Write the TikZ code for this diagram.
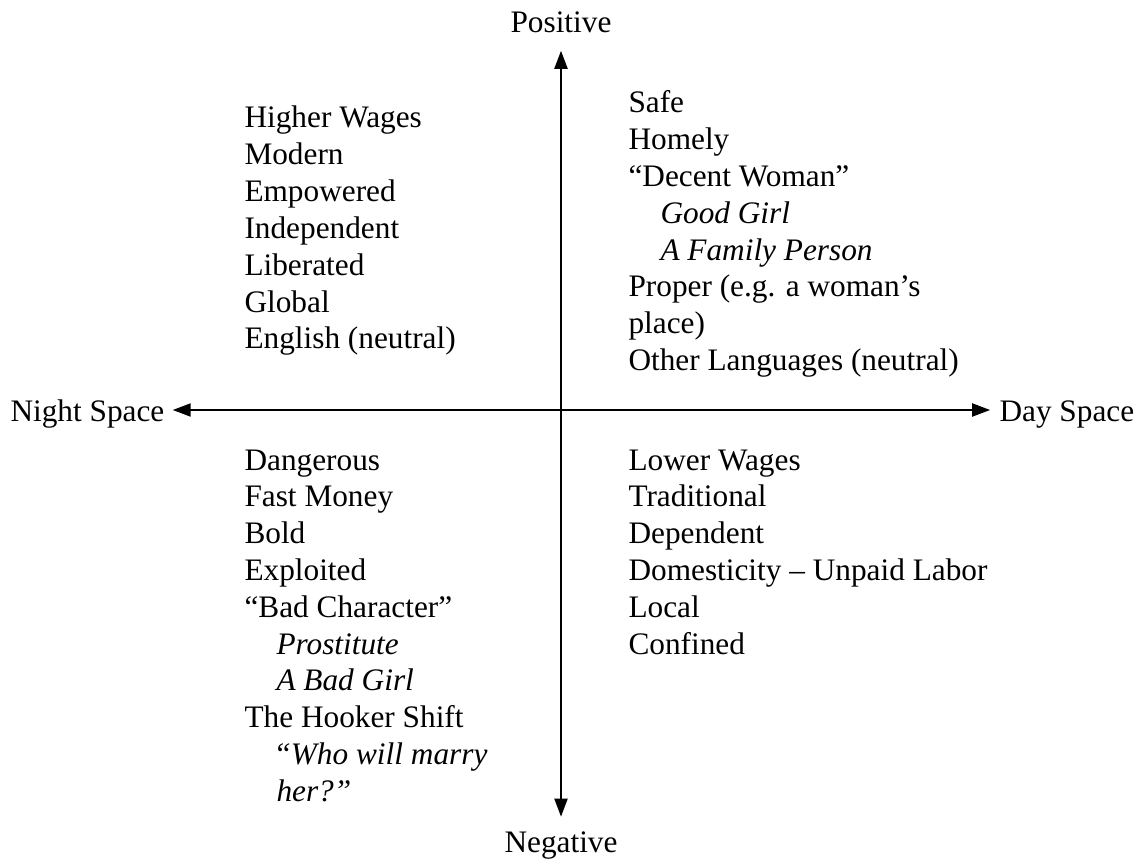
\documentclass[tikz,border=0pt]{standalone}
\usepackage{fontspec}
\setmainfont{Liberation Serif}
\usetikzlibrary{arrows.meta}

\begin{document}
\begin{tikzpicture}[
    x=0.3834pt, y=-0.3834pt,
    item/.style={anchor=base west, inner sep=0pt, font=\fontsize{12}{14}\selectfont},
    axislabel/.style={inner sep=0pt, font=\fontsize{12}{14}\selectfont},
    axis/.style={{Triangle[length=6.9pt,width=5pt]}-{Triangle[length=6.9pt,width=5pt]}, line width=0.75pt}
]
\useasboundingbox (0,0) rectangle (1143,861);

% Axis labels
\node[axislabel, anchor=base] (pos) at (561,33) {Positive};
\node[axislabel, anchor=base] (neg) at (561,852) {Negative};
\node[axislabel, anchor=base west] (night) at (10,421) {Night Space};
\node[axislabel, anchor=base west] (day) at (999,421) {Day Space};
\coordinate (o) at (561,410);

% Axes
\draw[axis, shorten <=3pt, shorten >=3.4pt] (night.east |- o) -- (day.west |- o);
\draw[axis, shorten <=6.5pt, shorten >=5.4pt] (pos.south) -- (neg.north);

% Night / positive
\foreach \dx/\txt [count=\i from 0] in {0/Higher Wages, 0/Modern, 0/Empowered,
    0/Independent, 0/Liberated, 0/Global, 0/English (neutral)}
  \node[item] (np-\i) at (244+\dx, 128+36.8*\i) {\txt};

% Day / positive
\foreach \dx/\txt [count=\i from 0] in {0/Safe, 0/Homely, 0/“Decent Woman”,
    32/\textit{Good Girl}, 32/\textit{A Family Person}, 0/Proper (e.g. a woman’s,
    0/place), 0/Other Languages (neutral)}
  \node[item] (dp-\i) at (628+\dx, 113+36.8*\i) {\txt};

% Night / negative
\foreach \dx/\txt [count=\i from 0] in {0/Dangerous, 0/Fast Money, 0/Bold,
    0/Exploited, 0/“Bad Character”, 32/\textit{Prostitute}, 32/\textit{A Bad Girl},
    0/The Hooker Shift, 29/\textit{“Who will marry}, 32/\textit{her?”}}
  \node[item] (nn-\i) at (244+\dx, 470+36.8*\i) {\txt};

% Day / negative
\foreach \dx/\txt [count=\i from 0] in {0/Lower Wages, 0/Traditional, 0/Dependent,
    0/Domesticity – Unpaid Labor, 0/Local, 0/Confined}
  \node[item] (dn-\i) at (628+\dx, 470+36.8*\i) {\txt};
\end{tikzpicture}
\end{document}
